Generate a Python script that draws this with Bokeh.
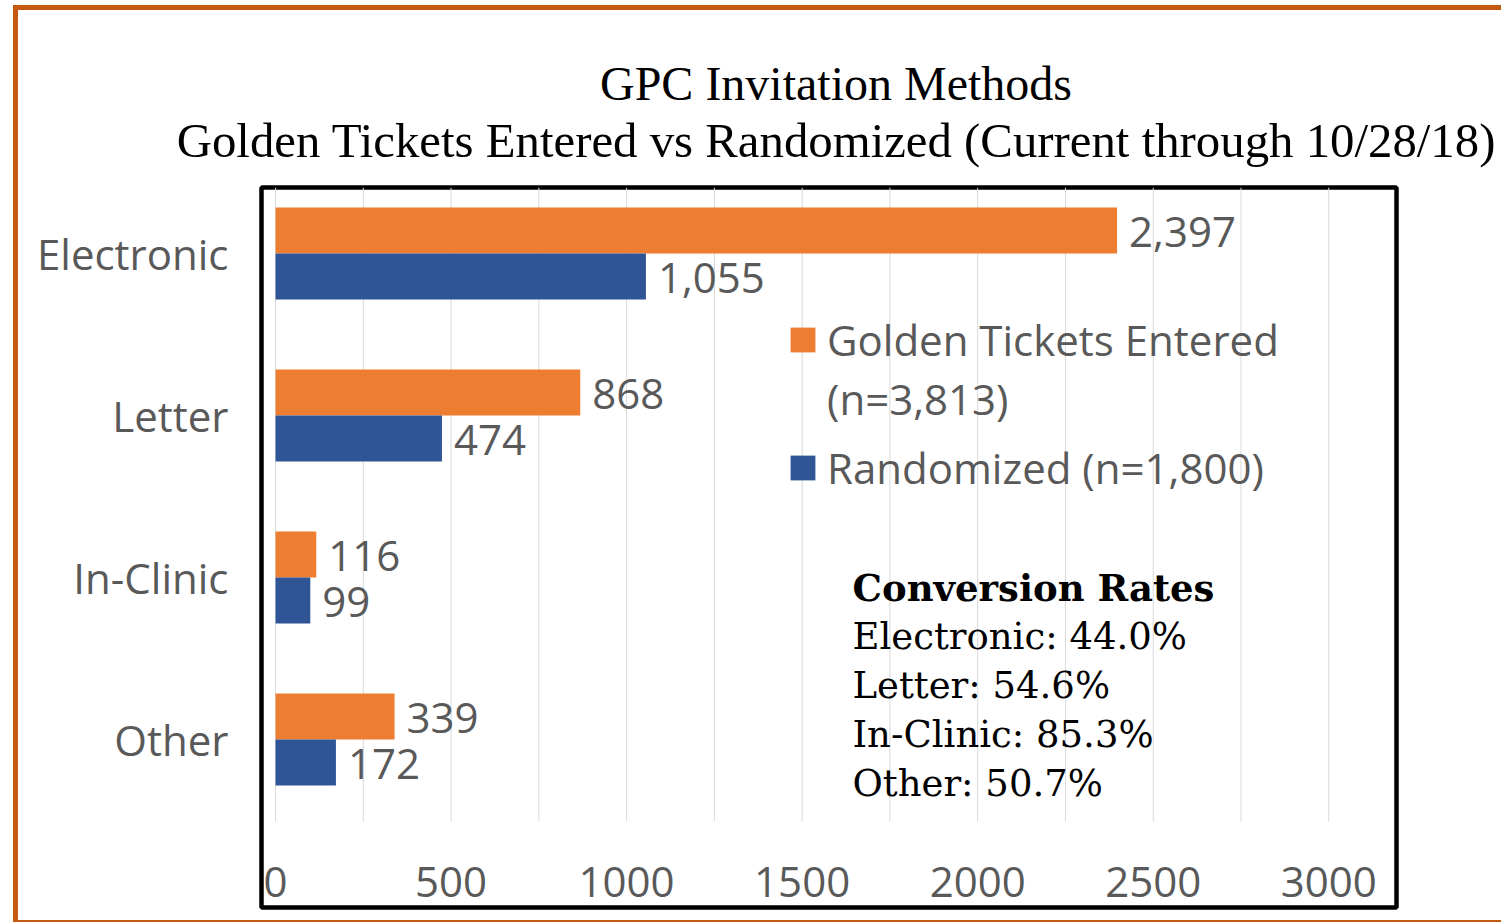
from bokeh.plotting import figure
from bokeh.layouts import column
from bokeh.models import (ColumnDataSource, Range1d, FixedTicker, Title,
                          Label, Legend, LegendItem)
from bokeh.core.properties import value
from bokeh.embed import file_html
from bokeh.resources import INLINE

# ---------------- data ----------------
categories = ["Electronic", "Letter", "In-Clinic", "Other"]
golden = [2397, 868, 116, 339]
randomized = [1055, 474, 99, 172]
conversion_rates = [44.0, 54.6, 85.3, 50.7]
golden_label = ["Golden Tickets Entered", "(n=3,813)"]
random_label = "Randomized (n=1,800)"
x_ticks = [0, 500, 1000, 1500, 2000, 2500, 3000]
grid_step = 250
title_lines = ["GPC Invitation Methods",
               "Golden Tickets Entered vs Randomized (Current through 10/28/18)"]

# ---------------- style ----------------
ORANGE = "#ED7D31"
BLUE = "#2F5597"
GRAY = "#595959"
GRID = "#D9D9D9"
BORDER = "#C55A11"
SANS = "Open Sans"
FS = "42px"

W, H = 1483, 910
n = len(categories)
pos = [n - 1 - i for i in range(n)]
off, bh = 0.142, 0.284

src = ColumnDataSource(dict(
    cat=categories, pos=pos, golden=golden, randomized=randomized,
    y_g=[q + off for q in pos], y_r=[q - off for q in pos],
    g_txt=[f"{v:,}" for v in golden], r_txt=[f"{v:,}" for v in randomized],
))

p = figure(width=W, height=H, output_backend="svg", toolbar_location=None,
           x_range=Range1d(-40, 3193), y_range=Range1d(-1.037, 3.407),
           min_border_left=243, min_border_right=105, min_border_top=177, min_border_bottom=13,
           title=None)
p.outline_line_color = "black"
p.outline_line_width = 4.5
p.background_fill_color = "white"
p.border_fill_color = "white"
p.xgrid.visible = False
p.ygrid.visible = False

# titles (line nearest to the plot first)
t2 = Title(text=title_lines[1], align="left", offset=-84.8, standoff=39,
           text_font="Liberation Serif", text_font_size="48.8px", text_font_style="normal",
           text_color="black")
t1 = Title(text=title_lines[0], align="left", offset=338.5, standoff=-35,
           text_font="Liberation Serif", text_font_size="48px", text_font_style="normal",
           text_color="black")
p.add_layout(t2, "above")
p.add_layout(t1, "above")

# vertical grid lines (stop above the tick labels)
grid_x = list(range(0, x_ticks[-1] + 1, grid_step))
p.segment(x0=grid_x, x1=grid_x, y0=[-0.506] * len(grid_x), y1=[p.y_range.end] * len(grid_x),
          line_color=GRID, line_width=1)

# bars
rg = p.hbar(y="y_g", left=0, right="golden", height=bh, fill_color=ORANGE, line_color=None, source=src)
rb = p.hbar(y="y_r", left=0, right="randomized", height=bh, fill_color=BLUE, line_color=None, source=src)
blank = p.hbar(y=[], left=[], right=[], height=bh, fill_alpha=0, line_alpha=0)

# value labels
for xcol, ycol, tcol in (("golden", "y_g", "g_txt"), ("randomized", "y_r", "r_txt")):
    p.text(x=xcol, y=ycol, text=tcol, source=src, x_offset=12, y_offset=2,
           text_align="left", text_baseline="middle", text_font=value(SANS),
           text_font_size=FS, text_color=GRAY)

# axes
p.xaxis.ticker = FixedTicker(ticks=x_ticks)
p.xaxis.axis_line_color = None
p.xaxis.major_tick_line_color = None
p.xaxis.minor_tick_line_color = None
p.xaxis.major_tick_out = 0
p.xaxis.major_label_text_font = SANS
p.xaxis.major_label_text_font_size = FS
p.xaxis.major_label_text_color = GRAY
p.xaxis.major_label_standoff = -41

p.yaxis.ticker = FixedTicker(ticks=pos)
p.yaxis.major_label_overrides = {q: c for q, c in zip(pos, categories)}
p.yaxis.axis_line_color = None
p.yaxis.major_tick_line_color = None
p.yaxis.minor_tick_line_color = None
p.yaxis.major_tick_out = 0
p.yaxis.major_label_text_font = SANS
p.yaxis.major_label_text_font_size = FS
p.yaxis.major_label_text_color = GRAY
p.yaxis.major_label_standoff = 33

# legend (two blocks so the square sits on the first text line)
common = dict(orientation="vertical", glyph_width=31, glyph_height=31, label_standoff=9,
              label_height=49, spacing=2, padding=0, margin=0, border_line_color=None,
              background_fill_alpha=0, label_text_font=SANS, label_text_font_size=FS,
              label_text_color=GRAY, label_text_line_height=1.0)
leg1 = Legend(items=[LegendItem(label=golden_label[0], renderers=[rg]),
                     LegendItem(label=golden_label[1], renderers=[blank])],
              location=(526, 480.5), **common)
leg2 = Legend(items=[LegendItem(label=random_label, renderers=[rb])],
              location=(526, 411.5), **common)
p.add_layout(leg1)
p.add_layout(leg2)

# conversion-rate note
note_lines = ["Conversion Rates"] + [f"{c}: {r:.1f}%" for c, r in zip(categories, conversion_rates)]
for i, t in enumerate(note_lines):
    p.add_layout(Label(x=591, y=319.5 - 48.75 * i, x_units="screen", y_units="screen", text=t,
                       text_font="DejaVu Serif", text_font_size="37px",
                       text_font_style="bold" if i == 0 else "normal",
                       text_color="black", text_baseline="middle", text_align="left"))

layout = column(p, styles={"margin-left": "13px", "margin-top": "5px",
                           "border-left": f"5px solid {BORDER}",
                           "border-top": f"5px solid {BORDER}",
                           "border-bottom": f"2px solid {BORDER}"})

open("out.html", "w").write(file_html(layout, INLINE))
